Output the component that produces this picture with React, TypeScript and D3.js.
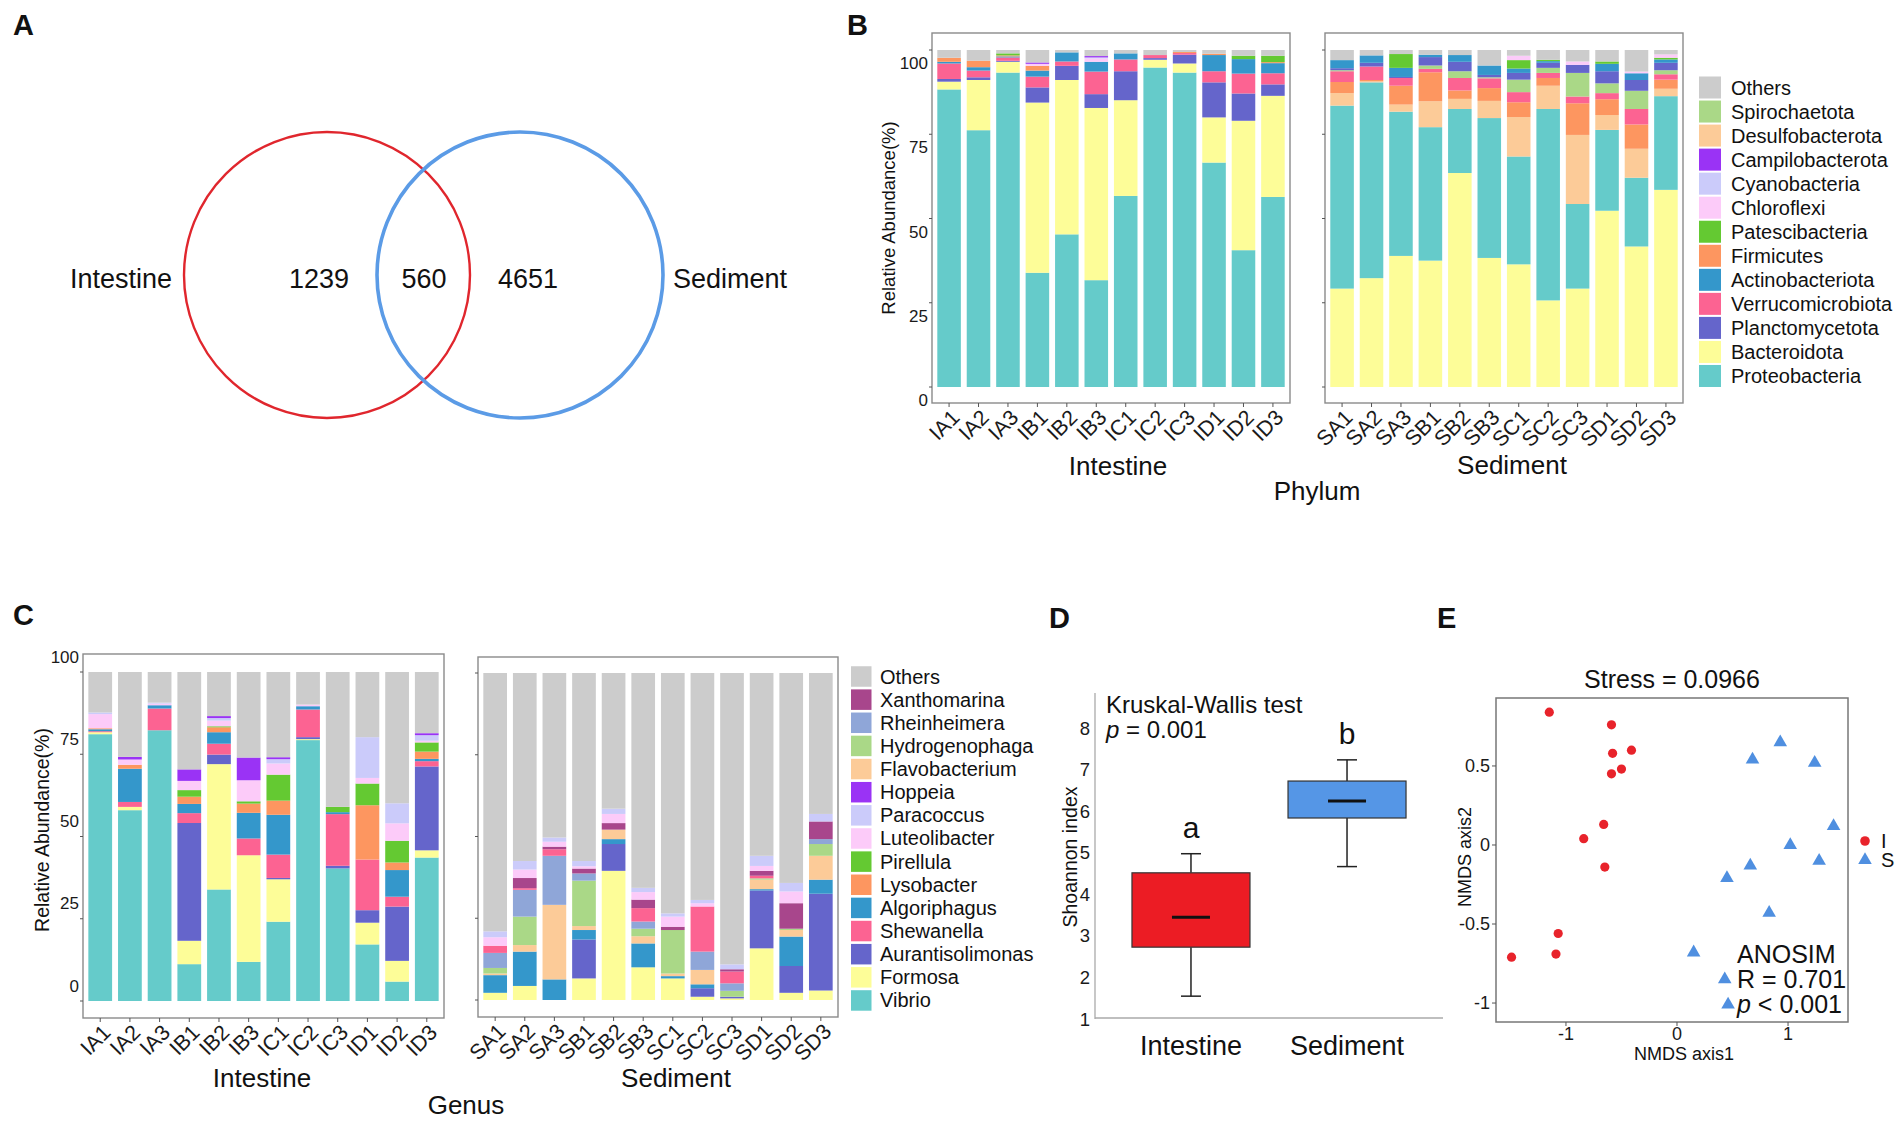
import React from 'react';
import * as d3 from 'd3';

const FONT = "'Liberation Sans', Arial, Helvetica, sans-serif";

// ---------- Panel A: Venn ----------
const vennSets = ['Intestine', 'Sediment'];
const vennCounts = [1239, 560, 4651];
const vennColors = ['#e0262d', '#5b9be6'];

// ---------- Samples ----------
const intestineSamples = ['IA1', 'IA2', 'IA3', 'IB1', 'IB2', 'IB3', 'IC1', 'IC2', 'IC3', 'ID1', 'ID2', 'ID3'];
const sedimentSamples = ['SA1', 'SA2', 'SA3', 'SB1', 'SB2', 'SB3', 'SC1', 'SC2', 'SC3', 'SD1', 'SD2', 'SD3'];

// ---------- Panel B: phylum relative abundance (12 intestine, then 12 sediment) ----------
const proteobacteria = [88.3, 76.2, 93.3, 33.9, 45.3, 31.7, 56.7, 94.8, 93.3, 66.6, 40.6, 56.4, 54.3, 58.1, 42.8, 39.6, 19.0, 41.5, 32.0, 56.8, 25.1, 24.0, 20.4, 27.8];
const bacteroidota = [2.3, 14.9, 3.2, 50.5, 45.8, 51.1, 28.4, 2.3, 2.7, 13.4, 38.4, 30.0, 29.2, 32.3, 38.9, 37.5, 63.5, 38.3, 36.4, 25.7, 29.2, 52.3, 41.7, 58.5];
const planctomycetota = [0.8, 0.8, 0.3, 4.5, 4.2, 4.1, 8.6, 0.5, 2.6, 10.4, 8.1, 3.4, 0.6, 1.1, 0.3, 2.5, 2.8, 0.7, 2.0, 1.5, 2.4, 3.6, 3.2, 2.2];
const verrucomicrobiota = [4.6, 2.0, 1.0, 3.2, 1.3, 6.7, 3.5, 0.9, 0.5, 3.3, 5.9, 3.3, 3.2, 4.0, 2.3, 1.0, 3.7, 2.9, 3.0, 1.5, 2.0, 1.8, 4.6, 1.6];
const actinobacteriota = [0.5, 1.0, 0.3, 1.8, 2.7, 2.9, 1.8, 0, 0, 4.8, 4.3, 3.0, 2.4, 2.2, 2.7, 0.7, 2.0, 2.8, 1.3, 0.5, 0, 2.2, 2.0, 1.0];
const firmicutes = [1.2, 1.9, 0.3, 1.4, 0, 0, 0, 0, 0.3, 0.4, 0, 0.3, 3.3, 0.4, 5.6, 8.6, 2.5, 3.8, 4.4, 2.3, 9.4, 4.7, 7.2, 2.7];
const patescibacteria = [0, 0, 0.6, 0, 0, 0, 0, 0, 0, 0, 1.0, 1.9, 0, 0, 4.1, 0, 0, 0, 2.5, 0.4, 0, 0.7, 0, 0.5];
const chloroflexi = [0, 0, 0, 0.6, 0, 1.0, 0, 0, 0, 0, 0, 0, 0, 0, 0, 0, 0, 0, 1.3, 0, 1.0, 0, 0.5, 1.0];
const cyanobacteria = [0, 0, 0, 0, 0, 0.3, 0, 0, 0, 0, 0, 0, 0, 0, 0, 0, 0, 0, 0, 0, 0, 0, 0, 0];
const campilobacterota = [0, 0, 0, 0.4, 0, 0.4, 0, 0, 0, 0, 0, 0, 0, 0, 0, 0, 0, 0, 0, 0, 0, 0, 0, 0];
const desulfobacterota = [0, 0, 0, 0, 0, 0, 0, 0, 0, 0, 0, 0, 3.7, 0.3, 2.1, 7.7, 3.0, 5.1, 11.7, 6.9, 20.5, 4.4, 8.6, 2.2];
const spirochaetota = [0, 0, 0, 0, 0, 0, 0, 0, 0, 0, 0, 0, 0.3, 0, 0, 1.0, 2.0, 0.3, 3.7, 1.5, 7.0, 2.9, 5.4, 1.2];
const othersPhylum = [2.3, 3.2, 1.0, 3.7, 0.7, 1.8, 1.0, 1.5, 0.6, 1.1, 1.7, 1.7, 3.0, 1.6, 1.2, 1.4, 1.5, 4.6, 1.7, 2.9, 3.4, 3.4, 6.4, 1.3];

const phylumLegend = ['Others', 'Spirochaetota', 'Desulfobacterota', 'Campilobacterota', 'Cyanobacteria', 'Chloroflexi', 'Patescibacteria', 'Firmicutes', 'Actinobacteriota', 'Verrucomicrobiota', 'Planctomycetota', 'Bacteroidota', 'Proteobacteria'];
const phylumColors = ['#cccccc', '#aad887', '#fccb98', '#9a33f5', '#cbcbfa', '#fccbf9', '#64c932', '#fd9660', '#3497cb', '#fc6392', '#6565cb', '#fdfd98', '#65cbca'];
const phylumSeries = [othersPhylum, spirochaetota, desulfobacterota, campilobacterota, cyanobacteria, chloroflexi, patescibacteria, firmicutes, actinobacteriota, verrucomicrobiota, planctomycetota, bacteroidota, proteobacteria];
const phylumStackIntestine = [...phylumLegend].reverse();
const phylumStackSediment = ['Bacteroidota', 'Proteobacteria', 'Desulfobacterota', 'Firmicutes', 'Verrucomicrobiota', 'Spirochaetota', 'Planctomycetota', 'Actinobacteriota', 'Patescibacteria', 'Chloroflexi', 'Cyanobacteria', 'Campilobacterota', 'Others'];

// ---------- Panel C: genus relative abundance ----------
const vibrio = [81.1, 58.0, 82.3, 11.2, 33.9, 11.9, 24.1, 79.3, 40.3, 17.2, 5.9, 43.6, 0, 0, 0, 0, 0, 0, 0, 0, 0, 0, 0, 0];
const formosa = [0.6, 1.0, 0, 7.1, 38.1, 32.4, 12.9, 0.3, 0, 6.6, 6.3, 2.2, 2.2, 4.3, 0, 6.6, 39.5, 10.0, 6.6, 1.0, 0.5, 15.8, 2.2, 2.9];
const aurantisolimonas = [0, 0, 0, 35.8, 2.9, 0, 0.4, 0.6, 0.8, 3.8, 16.5, 25.5, 0, 0, 0, 11.9, 8.2, 0, 0, 2.6, 0.5, 17.7, 8.2, 29.6];
const shewanella = [0.3, 1.5, 6.6, 3.0, 3.3, 5.1, 7.1, 8.4, 15.7, 15.4, 3.0, 1.6, 2.2, 0.5, 2.0, 0, 0, 4.1, 0, 13.8, 3.6, 0.8, 0, 0];
const algoriphagus = [0.6, 10.1, 1.0, 2.8, 3.5, 7.8, 12.1, 1.0, 0.6, 0, 8.1, 0.7, 5.4, 10.5, 6.3, 2.9, 1.5, 7.3, 0.7, 1.2, 0, 0.4, 9.0, 4.3];
const lysobacter = [0.3, 1.2, 0, 2.2, 1.5, 2.8, 4.3, 0, 0, 16.5, 2.3, 2.2, 0, 0, 0, 0, 0, 0, 0, 0, 0, 0, 0, 0];
const pirellula = [0, 0, 0, 2.0, 0.3, 0.7, 7.9, 0, 1.6, 6.6, 6.6, 2.8, 0, 0, 0, 0, 0, 0, 0, 0, 0, 0, 0, 0];
const luteolibacter = [4.3, 1.6, 0.5, 2.8, 1.7, 6.4, 3.4, 0.5, 0, 1.7, 5.3, 0.5, 2.6, 2.6, 1.5, 0.7, 2.8, 2.3, 3.1, 1.0, 0, 1.5, 3.6, 0];
const paracoccus = [0.5, 0, 0.3, 0, 0.8, 0, 1.3, 0, 0, 12.4, 6.1, 1.7, 1.8, 2.6, 1.3, 1.6, 1.6, 1.3, 1.0, 1.0, 1.5, 3.1, 2.6, 2.3];
const hoppeia = [0, 0.8, 0, 3.5, 0.6, 6.9, 0.6, 0, 0, 0, 0, 0.6, 0, 0, 0, 0, 0, 0, 0, 0, 0, 0, 0, 0];
const flavobacterium = [0, 0, 0, 0, 0, 0, 0, 0, 0, 0, 0, 0, 0.5, 2.0, 22.8, 1.2, 2.9, 2.2, 0.8, 4.4, 0, 2.9, 2.0, 7.3];
const hydrogenophaga = [0, 0, 0, 0, 0, 0, 0, 0, 0, 0, 0, 0, 1.7, 8.7, 0, 13.9, 0, 2.3, 13.3, 0, 1.8, 0.4, 0.4, 3.6];
const rheinheimera = [0, 0, 0, 0, 0, 0, 0, 0, 0, 0, 0, 0, 4.6, 8.2, 15.0, 2.2, 0, 2.2, 0, 5.6, 2.3, 0, 0, 1.5];
const xanthomarina = [0, 0, 0, 0, 0, 0, 0, 0, 0, 0, 0, 0, 0, 3.1, 0.8, 1.5, 2.0, 2.6, 1.0, 0, 0.7, 1.5, 7.8, 5.4];
const othersGenus = [12.3, 25.8, 9.3, 29.6, 13.4, 26.0, 25.9, 9.9, 41.0, 19.8, 39.9, 18.6, 79.0, 57.5, 50.3, 57.5, 41.5, 65.7, 73.5, 69.4, 89.1, 55.9, 64.2, 43.1];

const genusLegend = ['Others', 'Xanthomarina', 'Rheinheimera', 'Hydrogenophaga', 'Flavobacterium', 'Hoppeia', 'Paracoccus', 'Luteolibacter', 'Pirellula', 'Lysobacter', 'Algoriphagus', 'Shewanella', 'Aurantisolimonas', 'Formosa', 'Vibrio'];
const genusColors = ['#cccccc', '#a8468c', '#8fa6d8', '#aad887', '#fccb98', '#9a33f5', '#cbcbfa', '#fccbf9', '#64c932', '#fd9660', '#3497cb', '#fc6392', '#6565cb', '#fdfd98', '#65cbca'];
const genusSeries = [othersGenus, xanthomarina, rheinheimera, hydrogenophaga, flavobacterium, hoppeia, paracoccus, luteolibacter, pirellula, lysobacter, algoriphagus, shewanella, aurantisolimonas, formosa, vibrio];
const genusStackIntestine = [...genusLegend].reverse();
const genusStackSediment = ['Vibrio', 'Formosa', 'Aurantisolimonas', 'Algoriphagus', 'Flavobacterium', 'Hydrogenophaga', 'Rheinheimera', 'Shewanella', 'Xanthomarina', 'Lysobacter', 'Pirellula', 'Luteolibacter', 'Paracoccus', 'Hoppeia', 'Others'];

const abundanceTicks = [0, 25, 50, 75, 100];

// ---------- Panel D: Shannon index boxplot ----------
const boxGroups = ['Intestine', 'Sediment'];
const boxWhiskerLow = [1.55, 4.67];
const boxQ1 = [2.73, 5.84];
const boxMedian = [3.45, 6.25];
const boxQ3 = [4.52, 6.73];
const boxWhiskerHigh = [4.98, 7.24];
const boxLetters = ['a', 'b'];
const boxColors = ['#ec1c24', '#5596e6'];
const shannonTicks = [1, 2, 3, 4, 5, 6, 7, 8];

// ---------- Panel E: NMDS ----------
const nmdsIntestineX = [-1.15, -0.59, -0.41, -0.58, -0.50, -0.59, -0.66, -0.84, -0.65, -1.07, -1.09, -1.49];
const nmdsIntestineY = [0.84, 0.76, 0.60, 0.58, 0.48, 0.45, 0.13, 0.04, -0.14, -0.56, -0.69, -0.71];
const nmdsSedimentX = [0.93, 0.68, 1.24, 1.41, 1.02, 1.28, 0.66, 0.45, 0.83, 0.15, 0.43, 0.46];
const nmdsSedimentY = [0.65, 0.54, 0.52, 0.12, 0.00, -0.10, -0.13, -0.21, -0.43, -0.68, -0.85, -1.01];
const nmdsXTicks = [-1, 0, 1];
const nmdsYTicks = [-1, -0.5, 0, 0.5];
const nmdsGroups = ['I', 'S'];
const nmdsColors = ['#e8232b', '#4f8fe0'];

type FacetProps = {
  samples: string[];
  offset: number;
  order: string[];
  values: Map<string, number[]>;
  colors: Map<string, string>;
  left: number; right: number; top: number; bottom: number;
  barTop: number; barBottom: number;
  yLabels: boolean; labelShift: number;
  title: string; titleX: number; titleY: number;
};

function Facet(p: FacetProps) {
  const x = d3.scaleBand<string>().domain(p.samples).range([p.left, p.right]).paddingInner(0.2).paddingOuter(0.18);
  const y = d3.scaleLinear().domain([0, 100]).range([p.barBottom, p.barTop]);
  const rows = p.samples.map((s, i) => {
    const r: Record<string, any> = { sample: s };
    p.order.forEach((k) => { r[k] = p.values.get(k)![p.offset + i]; });
    return r;
  });
  const stacked = d3.stack<any>().keys(p.order)(rows);
  return (
    <g>
      {stacked.map((layer) => (
        <g key={layer.key} fill={p.colors.get(layer.key)}>
          {layer.map((d, i) => {
            const h = y(d[0]) - y(d[1]);
            if (h <= 0) return null;
            return <rect key={i} x={x(p.samples[i])} y={y(d[1])} width={x.bandwidth()} height={h} />;
          })}
        </g>
      ))}
      <rect x={p.left} y={p.top} width={p.right - p.left} height={p.bottom - p.top} fill="none" stroke="#8a8a8a" strokeWidth={1.4} />
      {abundanceTicks.map((t) => (
        <g key={t}>
          <line x1={p.left - 3} x2={p.left} y1={y(t)} y2={y(t)} stroke="#555" strokeWidth={1} />
          {p.yLabels && (
            <text x={p.left - 4} y={y(t) + p.labelShift} textAnchor="end" dominantBaseline="central" fontSize={17} fill="#1a1a1a">{t}</text>
          )}
        </g>
      ))}
      {p.samples.map((s) => {
        const cx = (x(s) as number) + x.bandwidth() / 2;
        return (
          <g key={s}>
            <line x1={cx} x2={cx} y1={p.bottom} y2={p.bottom + 4} stroke="#555" strokeWidth={1} />
            <text transform={`translate(${cx + 1},${p.bottom + 5}) rotate(-45)`} textAnchor="end" dy="0.71em" fontSize={21.5} fill="#1a1a1a">{s}</text>
          </g>
        );
      })}
      <text x={p.titleX} y={p.titleY} textAnchor="middle" fontSize={26} fill="#111">{p.title}</text>
    </g>
  );
}

function Legend({ names, colors, x, y0, step, size, textX, fontSize }: { names: string[]; colors: string[]; x: number; y0: number; step: number; size: number; textX: number; fontSize: number }) {
  return (
    <g>
      {names.map((n, i) => (
        <g key={n}>
          <rect x={x} y={y0 + i * step - size / 2} width={size} height={size} fill={colors[i]} />
          <text x={textX} y={y0 + i * step} dominantBaseline="central" fontSize={fontSize} fill="#111">{n}</text>
        </g>
      ))}
    </g>
  );
}

function PanelA() {
  const r = 143;
  const cy = 275;
  const cxs = [327, 520];
  return (
    <g>
      <circle cx={cxs[0]} cy={cy} r={r} fill="none" stroke={vennColors[0]} strokeWidth={2.4} />
      <circle cx={cxs[1]} cy={cy} r={r} fill="none" stroke={vennColors[1]} strokeWidth={3.6} />
      <text x={172} y={288} textAnchor="end" fontSize={27} fill="#111">{vennSets[0]}</text>
      <text x={673} y={288} textAnchor="start" fontSize={27} fill="#111">{vennSets[1]}</text>
      <text x={319} y={288} textAnchor="middle" fontSize={27} fill="#111">{vennCounts[0]}</text>
      <text x={424} y={288} textAnchor="middle" fontSize={27} fill="#111">{vennCounts[1]}</text>
      <text x={528} y={288} textAnchor="middle" fontSize={27} fill="#111">{vennCounts[2]}</text>
    </g>
  );
}

function PanelB() {
  const values = new Map(phylumLegend.map((n, i) => [n, phylumSeries[i]] as [string, number[]]));
  const colors = new Map(phylumLegend.map((n, i) => [n, phylumColors[i]] as [string, string]));
  return (
    <g>
      <Facet samples={intestineSamples} offset={0} order={phylumStackIntestine} values={values} colors={colors}
        left={932} right={1290} top={33} bottom={403} barTop={50} barBottom={387} yLabels labelShift={13.5}
        title="Intestine" titleX={1118} titleY={475} />
      <Facet samples={sedimentSamples} offset={12} order={phylumStackSediment} values={values} colors={colors}
        left={1325} right={1683} top={33} bottom={403} barTop={50} barBottom={387} yLabels={false} labelShift={0}
        title="Sediment" titleX={1512} titleY={474} />
      <text transform="translate(888,218) rotate(-90)" textAnchor="middle" dominantBaseline="central" fontSize={18.5} fill="#111">Relative Abundance(%)</text>
      <text x={1317} y={500} textAnchor="middle" fontSize={26} fill="#111">Phylum</text>
      <Legend names={phylumLegend} colors={phylumColors} x={1699} y0={87.5} step={24.04} size={22} textX={1731} fontSize={20} />
    </g>
  );
}

function PanelC() {
  const values = new Map(genusLegend.map((n, i) => [n, genusSeries[i]] as [string, number[]]));
  const colors = new Map(genusLegend.map((n, i) => [n, genusColors[i]] as [string, string]));
  return (
    <g>
      <Facet samples={intestineSamples} offset={0} order={genusStackIntestine} values={values} colors={colors}
        left={83} right={444} top={654} bottom={1018} barTop={672} barBottom={1001} yLabels labelShift={-15}
        title="Intestine" titleX={262} titleY={1087} />
      <Facet samples={sedimentSamples} offset={12} order={genusStackSediment} values={values} colors={colors}
        left={478} right={838} top={657} bottom={1017} barTop={673} barBottom={1000} yLabels={false} labelShift={0}
        title="Sediment" titleX={676} titleY={1087} />
      <text transform="translate(42,830) rotate(-90)" textAnchor="middle" dominantBaseline="central" fontSize={19.5} fill="#111">Relative Abundance(%)</text>
      <text x={466} y={1114} textAnchor="middle" fontSize={26} fill="#111">Genus</text>
      <Legend names={genusLegend} colors={genusColors} x={851} y0={676.5} step={23.14} size={20.5} textX={880} fontSize={20} />
    </g>
  );
}

function PanelD() {
  const x = d3.scalePoint<string>().domain(boxGroups).range([1095, 1443]).padding(0.615);
  const y = d3.scaleLinear().domain([1, 8.85]).range([1019, 693]);
  const boxW = 118;
  return (
    <g>
      <line x1={1095} x2={1095} y1={y(8.85)} y2={y(1)} stroke="#aaa" strokeWidth={1.3} />
      <line x1={1095} x2={1443} y1={y(1) - 1} y2={y(1) - 1} stroke="#aaa" strokeWidth={1.3} />
      {shannonTicks.map((t) => (
        <text key={t} x={1090} y={y(t)} textAnchor="end" dominantBaseline="central" fontSize={18.5} fill="#1a1a1a">{t}</text>
      ))}
      <text transform="translate(1070,857) rotate(-90)" textAnchor="middle" dominantBaseline="central" fontSize={19.5} fill="#111">Shoannon index</text>
      {boxGroups.map((g, i) => {
        const cx = x(g) as number;
        return (
          <g key={g}>
            <line x1={cx} x2={cx} y1={y(boxWhiskerLow[i])} y2={y(boxQ1[i])} stroke="#222" strokeWidth={1.5} />
            <line x1={cx} x2={cx} y1={y(boxQ3[i])} y2={y(boxWhiskerHigh[i])} stroke="#222" strokeWidth={1.5} />
            <line x1={cx - 10} x2={cx + 10} y1={y(boxWhiskerLow[i])} y2={y(boxWhiskerLow[i])} stroke="#222" strokeWidth={1.5} />
            <line x1={cx - 10} x2={cx + 10} y1={y(boxWhiskerHigh[i])} y2={y(boxWhiskerHigh[i])} stroke="#222" strokeWidth={1.5} />
            <rect x={cx - boxW / 2} y={y(boxQ3[i])} width={boxW} height={y(boxQ1[i]) - y(boxQ3[i])} fill={boxColors[i]} stroke="#333" strokeWidth={1.2} />
            <line x1={cx - 19} x2={cx + 19} y1={y(boxMedian[i])} y2={y(boxMedian[i])} stroke="#111" strokeWidth={3} />
            <text x={cx} y={y(boxWhiskerHigh[i]) - 16} textAnchor="middle" fontSize={30} fill="#111">{boxLetters[i]}</text>
            <text x={cx} y={1055} textAnchor="middle" fontSize={27} fill="#111">{g}</text>
          </g>
        );
      })}
      <text x={1106} y={713} fontSize={24} fill="#111">Kruskal-Wallis test</text>
      <text x={1106} y={738} fontSize={24} fill="#111"><tspan fontStyle="italic">p</tspan> = 0.001</text>
    </g>
  );
}

function PanelE() {
  const left = 1496, right = 1848, top = 698, bottom = 1022;
  const x = d3.scaleLinear().domain([-1.63, 1.54]).range([left, right]);
  const y = d3.scaleLinear().domain([-1.12, 0.93]).range([bottom, top]);
  const tri = d3.symbol().type(d3.symbolTriangle).size(80)() as string;
  return (
    <g>
      <text x={(left + right) / 2} y={688} textAnchor="middle" fontSize={25} fill="#111">Stress = 0.0966</text>
      <rect x={left} y={top} width={right - left} height={bottom - top} fill="none" stroke="#777" strokeWidth={1.5} />
      {nmdsXTicks.map((t) => (
        <g key={t}>
          <line x1={x(t)} x2={x(t)} y1={bottom} y2={bottom + 4} stroke="#555" />
          <text x={x(t)} y={1040} textAnchor="middle" fontSize={18} fill="#1a1a1a">{t}</text>
        </g>
      ))}
      {nmdsYTicks.map((t) => (
        <g key={t}>
          <line x1={left - 4} x2={left} y1={y(t)} y2={y(t)} stroke="#555" />
          <text x={left - 6} y={y(t)} textAnchor="end" dominantBaseline="central" fontSize={18} fill="#1a1a1a">{t}</text>
        </g>
      ))}
      <text x={1684} y={1060} textAnchor="middle" fontSize={18} fill="#111">NMDS axis1</text>
      <text transform="translate(1465,857) rotate(-90)" textAnchor="middle" dominantBaseline="central" fontSize={18} fill="#111">NMDS axis2</text>
      {nmdsIntestineX.map((v, i) => (
        <circle key={'i' + i} cx={x(v)} cy={y(nmdsIntestineY[i])} r={4.6} fill={nmdsColors[0]} />
      ))}
      {nmdsSedimentX.map((v, i) => (
        <path key={'s' + i} d={tri} transform={`translate(${x(v)},${y(nmdsSedimentY[i])})`} fill={nmdsColors[1]} />
      ))}
      <text x={1737} y={963} fontSize={25} fill="#111">ANOSIM</text>
      <text x={1737} y={988} fontSize={25} fill="#111">R = 0.701</text>
      <text x={1737} y={1013} fontSize={25} fill="#111"><tspan fontStyle="italic">p</tspan> &lt; 0.001</text>
      <circle cx={1865} cy={841} r={4.8} fill={nmdsColors[0]} />
      <path d={tri} transform="translate(1865,860)" fill={nmdsColors[1]} />
      <text x={1881} y={841} dominantBaseline="central" fontSize={20} fill="#111">{nmdsGroups[0]}</text>
      <text x={1881} y={860} dominantBaseline="central" fontSize={20} fill="#111">{nmdsGroups[1]}</text>
    </g>
  );
}

export default function App() {
  return (
    <svg width={1904} height={1121} viewBox="0 0 1904 1121" style={{ position: 'absolute', left: 0, top: 0, background: '#fff' }} fontFamily={FONT}>
      <rect x={0} y={0} width={1904} height={1121} fill="#fff" />
      <PanelA />
      <PanelB />
      <PanelC />
      <PanelD />
      <PanelE />
      <g fontWeight="bold" fontSize={29} fill="#111">
        <text x={13} y={35}>A</text>
        <text x={847} y={35}>B</text>
        <text x={13} y={625}>C</text>
        <text x={1049} y={628}>D</text>
        <text x={1437} y={628}>E</text>
      </g>
    </svg>
  );
}
